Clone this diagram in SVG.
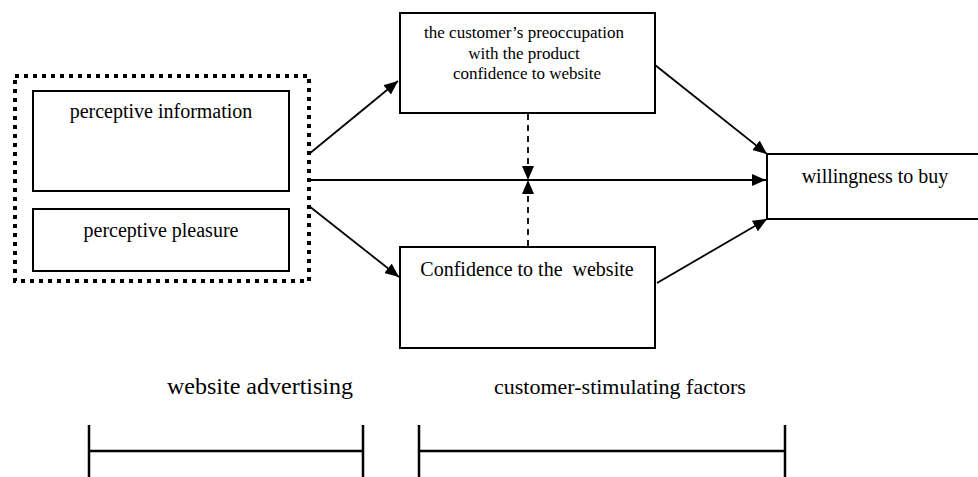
<svg xmlns="http://www.w3.org/2000/svg" width="978" height="477" viewBox="0 0 978 477">
<style>
  .box{fill:#fff;stroke:#000;stroke-width:2}
  .dotbox{fill:none;stroke:#000;stroke-width:4;stroke-dasharray:4 5}
  .t{font-family:"Liberation Serif","Times New Roman",serif;fill:#000;text-anchor:middle}
  .line{fill:none;stroke:#000;stroke-width:1.8}
  .dash{fill:none;stroke:#000;stroke-width:1.8;stroke-dasharray:6 5}
  .br{fill:none;stroke:#000;stroke-width:2.5}
</style>
<defs>
  <marker id="ah" markerUnits="userSpaceOnUse" markerWidth="16" markerHeight="13" refX="14" refY="6" orient="auto">
    <path d="M0,0 L14,6 L0,12 Z" fill="#000"/>
  </marker>
</defs>
<rect width="978" height="477" fill="#fff"/>
<g id="website-ad-group">
  <rect class="dotbox" x="15" y="76" width="294" height="205"/>
</g>
<g id="perceptive-information">
  <rect class="box" x="33" y="91" width="256" height="100"/>
  <text class="t" x="161" y="118" font-size="20">perceptive information</text>
</g>
<g id="perceptive-pleasure">
  <rect class="box" x="33" y="209" width="256" height="62"/>
  <text class="t" x="161" y="237" font-size="20">perceptive pleasure</text>
</g>
<g id="preoccupation">
  <rect class="box" x="400" y="13" width="255" height="100"/>
  <text class="t" x="524" y="38" font-size="17">the customer’s preoccupation</text>
  <text class="t" x="524" y="59" font-size="17">with the product</text>
  <text class="t" x="527" y="79" font-size="17">confidence to website</text>
</g>
<g id="confidence">
  <rect class="box" x="400" y="247" width="255" height="101"/>
  <text class="t" x="527" y="276" font-size="20" xml:space="preserve">Confidence to the  website</text>
</g>
<g id="willingness">
  <rect class="box" x="767" y="154" width="230" height="65"/>
  <text class="t" x="875" y="183" font-size="20">willingness to buy</text>
</g>
<g id="connectors">
  <line class="line" x1="309" y1="154" x2="398" y2="81" marker-end="url(#ah)"/>
  <line class="line" x1="309" y1="180" x2="766" y2="180" marker-end="url(#ah)"/>
  <line class="line" x1="309" y1="206" x2="399" y2="277" marker-end="url(#ah)"/>
  <line class="line" x1="655" y1="65" x2="767" y2="154" marker-end="url(#ah)"/>
  <line class="line" x1="657" y1="283" x2="767" y2="219" marker-end="url(#ah)"/>
  <line class="dash" x1="528" y1="114" x2="528" y2="180" marker-end="url(#ah)"/>
  <line class="dash" x1="528" y1="246" x2="528" y2="180" marker-end="url(#ah)"/>
</g>
<g id="labels">
  <text class="t" x="260" y="394" font-size="24">website advertising</text>
  <text class="t" x="620" y="394" font-size="22">customer-stimulating factors</text>
</g>
<g id="brackets">
  <path class="br" d="M89,425 V477 M363,425 V477 M89,451 H363"/>
  <path class="br" d="M419,425 V477 M785,425 V477 M419,451 H785"/>
</g>
</svg>
